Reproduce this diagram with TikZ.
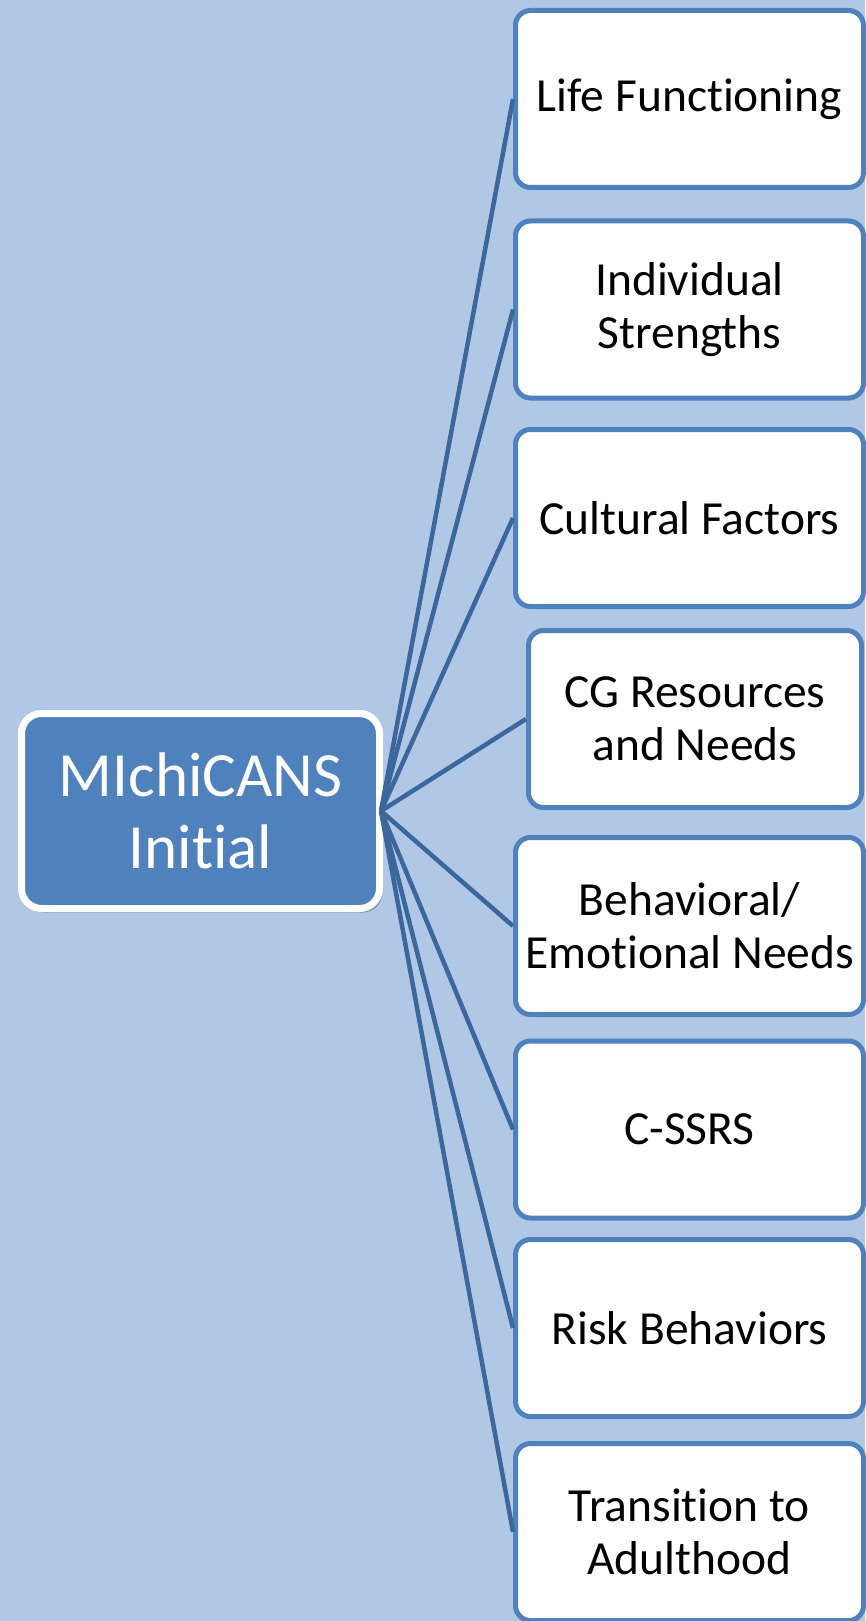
\documentclass[tikz,border=0pt]{standalone}
\usepackage{fontspec}
\setmainfont[Ligatures=NoCommon]{Carlito}
\usetikzlibrary{shadows}
\definecolor{bgblue}{HTML}{B0C8E6}
\definecolor{accent}{HTML}{4F81BD}
\definecolor{linkblue}{HTML}{3C679D}
\tikzset{
  leafbox/.style={draw=accent, line width=5pt, fill=white, rounded corners=15pt,
    minimum height=177pt, text width=340pt, align=center, inner sep=0pt,
    font=\fontsize{47.5}{53}\selectfont, text=black,
    execute at begin node={\spaceskip=0.226em\relax}},
  rootbox/.style={draw=white, line width=7pt, fill=accent, rounded corners=20pt,
    minimum width=358pt, minimum height=195pt, align=center, inner sep=0pt,
    font=\fontsize{63}{72}\selectfont, text=white,
    drop shadow={shadow xshift=3pt, shadow yshift=-4pt, opacity=0.25, fill=black}},
  link/.style={draw=linkblue, line width=4.5pt}
}
\begin{document}
\begin{tikzpicture}[x=1pt, y=-1pt]
\fill[bgblue] (0,0) rectangle (865,1621);
\useasboundingbox (0,0) rectangle (865,1621);

\node[rootbox] (root) at (200.5,811) {MIchiCANS\\Initial};

\node[leafbox, minimum width=348pt] (b1) at (689.5,99) {Life Functioning};
\node[leafbox, minimum width=348pt] (b2) at (689.5,309.5) {Individual\\Strengths};
\node[leafbox, minimum width=348pt] (b3) at (689.5,518) {Cultural Factors};
\node[leafbox, minimum width=333pt, text width=325pt] (b4) at (695,719) {CG Resources\\and Needs};
\node[leafbox, minimum width=348pt] (b5) at (689.5,926) {Behavioral/\\Emotional Needs};
\node[leafbox, minimum width=348pt] (b6) at (689.5,1129.5) {C-SSRS};
\node[leafbox, minimum width=348pt] (b7) at (689.5,1328) {Risk Behaviors};
\node[leafbox, minimum width=348pt] (b8) at (689.5,1532) {Transition to\\Adulthood};

\coordinate (hub) at ([xshift=-2pt]root.east);
\foreach \b in {b1,b2,b3,b4,b5,b6,b7,b8}{
  \draw[link] (hub) -- (\b.west);
}
\end{tikzpicture}
\end{document}
